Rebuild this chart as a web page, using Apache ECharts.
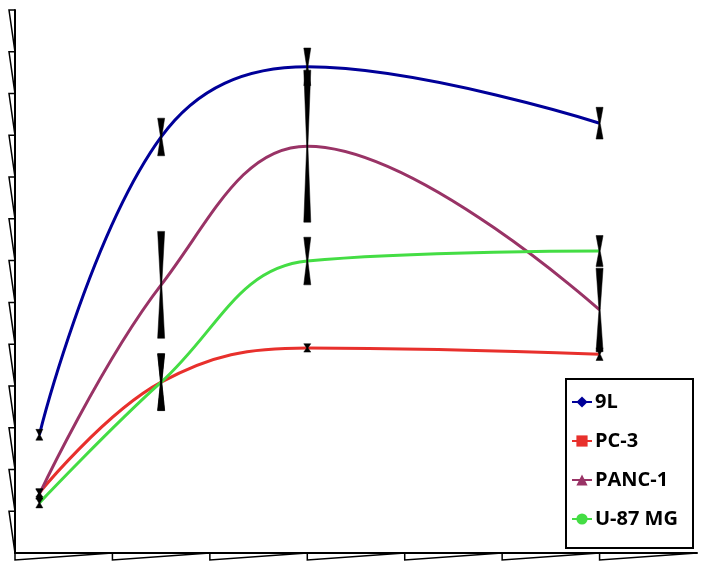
<!DOCTYPE html>
<html><head><meta charset="utf-8">
<script src="https://cdn.jsdelivr.net/npm/echarts@6/dist/echarts.min.js"></script>
<style>html,body{margin:0;padding:0;background:#fff}#c{width:709px;height:571px}</style>
</head><body><div id="c"></div><script>
// Data
const timePoints = [0.25, 1.5, 3, 6];
const seriesNames = ['9L', 'PC-3', 'PANC-1', 'U-87 MG'];
const val9L   = [2.83, 9.96, 11.64, 10.29];
const err9L   = [0.13, 0.45, 0.45, 0.38];
const valPC3  = [1.44, 4.09, 4.91, 4.76];
const errPC3  = [0.10, 0.68, 0.10, 0.15];
const valPANC = [1.41, 6.42, 9.74, 5.82];
const errPANC = [0.12, 1.28, 1.82, 1.00];
const valU87  = [1.20, 4.09, 6.99, 7.23];
const errU87  = [0.12, 0.68, 0.57, 0.37];
const yTickValues = [1,2,3,4,5,6,7,8,9,10,11,12,13];
const xTickValues = [0,1,2,3,4,5,6];

const colors = ['#000099', '#E8302C', '#993366', '#44DD44'];
const symbols = ['diamond', 'rect', 'triangle', 'circle'];
const values = [val9L, valPC3, valPANC, valU87];
const errors = [err9L, errPC3, errPANC, errU87];

const chart = echarts.init(document.getElementById('c'), null, {renderer: 'canvas'});

function bowtie(params, api) {
  const x = api.value(0), y = api.value(1), e = api.value(2);
  const top = api.coord([x, y + e]), mid = api.coord([x, y]), bot = api.coord([x, y - e]);
  const w = 3.5, n = 0.6;
  return {
    type: 'polygon',
    shape: {points: [[top[0]-w, top[1]], [top[0]+w, top[1]], [mid[0]+n, mid[1]],
                     [bot[0]+w, bot[1]], [bot[0]-w, bot[1]], [mid[0]-n, mid[1]]]},
    style: {fill: '#000', stroke: '#000', lineWidth: 0.5}
  };
}

const lineSeries = seriesNames.map((name, i) => ({
  name: name,
  type: 'line',
  smooth: 0.4,
  symbol: symbols[i],
  symbolSize: 12,
  showSymbol: false,
  lineStyle: {color: colors[i], width: 3},
  itemStyle: {color: colors[i]},
  data: timePoints.map((t, k) => [t, values[i][k]]),
  z: 3
}));

const errData = [];
seriesNames.forEach((n, i) => timePoints.forEach((t, k) => errData.push([t, values[i][k], errors[i][k]])));

const option = {
  backgroundColor: '#fff',
  animation: false,
  grid: {left: 15, right: 12, top: 10, bottom: 18},
  xAxis: {
    type: 'value', min: 0, max: 7, interval: 1,
    axisLine: {show: true, onZero: false, lineStyle: {color: '#000', width: 2}},
    axisTick: {show: false}, axisLabel: {show: false}, splitLine: {show: false}
  },
  yAxis: {
    type: 'value', min: 0, max: 13, interval: 1,
    axisLine: {show: true, lineStyle: {color: '#000', width: 2}},
    axisTick: {show: false}, axisLabel: {show: false}, splitLine: {show: false}
  },
  legend: {
    data: seriesNames,
    orient: 'vertical',
    left: 571, top: 392,
    itemWidth: 20, itemHeight: 14, itemGap: 19,
    padding: 0,
    textStyle: {fontFamily: 'Open Sans', fontWeight: 'bold', fontSize: 20, color: '#000', lineHeight: 20, padding: [0, 0, 0, -2]},
    z: 10
  },
  graphic: [{
    type: 'rect', left: 565, top: 378, z: 5,
    shape: {width: 127, height: 169},
    style: {fill: '#fff', stroke: '#000', lineWidth: 2}
  }],
  series: lineSeries.concat([
    {
      type: 'custom', name: 'err', coordinateSystem: 'cartesian2d',
      renderItem: bowtie, data: errData, z: 4, clip: false
    },
    {
      type: 'custom', name: 'yticks', coordinateSystem: 'cartesian2d', clip: false, silent: true,
      data: yTickValues.map(v => [0, v]),
      renderItem: function (params, api) {
        const v = api.value(1);
        const p = api.coord([0, v]), q = api.coord([0, v - 1]);
        return {type: 'polyline', shape: {points: [[q[0], q[1]], [p[0] - 6, p[1]], [p[0], p[1]]]},
                style: {fill: null, stroke: '#000', lineWidth: 1.5}};
      }
    },
    {
      type: 'custom', name: 'xticks', coordinateSystem: 'cartesian2d', clip: false, silent: true,
      data: xTickValues.map(v => [v, 0]),
      renderItem: function (params, api) {
        const v = api.value(0);
        const p = api.coord([v, 0]), q = api.coord([v + 1, 0]);
        return {type: 'polyline', shape: {points: [[p[0], p[1]], [p[0], p[1] + 7], [q[0], q[1]]]},
                style: {fill: null, stroke: '#000', lineWidth: 1.5}};
      }
    }
  ])
};
chart.setOption(option);
</script></body></html>
